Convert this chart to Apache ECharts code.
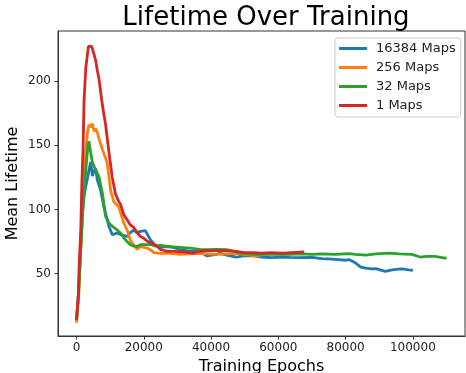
<!DOCTYPE html>
<html>
<head>
<meta charset="utf-8">
<script src="https://cdn.jsdelivr.net/npm/echarts@6/dist/echarts.min.js"></script>
<style>
  html, body { margin: 0; padding: 0; background: #fff; }
  #main { width: 466px; height: 373px; }
</style>
</head>
<body>
<div id="main"></div>
<script>
// 数据：每条曲线 [训练轮数, 平均寿命]
var seriesNames = ['16384 Maps', '256 Maps', '32 Maps', '1 Maps'];
var seriesColors = ['#1f77b4', '#ff7f0e', '#2ca02c', '#d62728'];
var xTicks = [0, 20000, 40000, 60000, 80000, 100000];
var yTicks = [50, 100, 150, 200];

var maps16384 = [
    [0,13],[600,35],[1270,70],[1770,97],[2250,110],[2750,118],[3400,126],[3720,131],[4220,137],[4720,126],
    [5200,130],[5700,132],[6200,123],[7180,115],[8150,102],[9630,87],[10630,80.4],[12110,81.7],[13500,80],
    [15060,79],[16000,82],[17010,84],[18000,82],[19000,83],[19490,82],[20460,83.5],[21000,82],[21940,76.5],
    [23420,72],[24890,71],[27850,71],[28730,70.5],[30800,68.7],[33750,67.4],[36700,67.4],[38680,64],
    [41640,65],[42600,66],[44600,64.5],[47540,63],[50000,64],[52360,64],[55000,63],[58000,62.5],[61000,63],
    [63300,62.7],[66000,62.5],[70000,62.7],[73000,61.7],[76000,61.4],[80100,60.5],[81000,61],[83000,58.3],
    [84500,55.2],[86000,54.4],[87900,53.7],[89000,54],[91800,51.8],[93800,53],[95800,53.6],[96700,53.7],
    [98700,53],[100000,52.7]
];
var maps256 = [
    [0,12],[600,30],[1270,70],[1770,108],[2250,125],[2750,146.6],[3250,160],[3720,166],[4220,164],[4720,167],
    [5200,161],[5700,163],[6200,160],[6670,155],[7680,147],[8650,140],[9150,136],[10130,115],[11100,106],
    [12580,102],[14060,89.5],[15060,84],[16030,76],[16540,75],[18010,69],[19000,71],[20970,70],[21900,68.7],
    [23000,66.5],[24890,65.8],[26900,66],[30800,65],[36700,65.8],[41640,65],[47540,65.8],[52360,64],[55000,64.5]
];
var maps32 = [
    [0,14],[600,34],[1270,70],[2000,105],[2750,130],[3400,150],[3720,153],[4220,144],[4720,137],[5200,133.5],
    [5700,135],[6670,125.7],[7680,112.8],[8650,94.6],[9630,89.5],[10630,87],[12110,84],[13580,80.4],
    [14060,77.8],[15060,75],[16030,72.6],[17010,71.5],[18000,71],[19000,72.6],[20970,72.6],[22440,72.6],
    [23420,71.5],[24890,72],[27850,71],[30800,70.5],[33750,70],[36700,69],[38680,68.7],[41640,69],[44600,68.7],
    [47540,67],[48520,66],[52360,65],[56000,65],[60000,65],[63300,65],[67000,65.5],[70000,65],[73000,65.5],
    [77000,65],[81000,65.6],[83000,65],[86000,64.5],[89000,65.5],[92800,66],[96000,65.5],[99700,65],
    [102200,63],[104000,63.5],[106600,63.5],[109500,62.2],[110000,62.5]
];
var maps1 = [
    [0,14],[590,35],[770,55.7],[1270,84],[1565,118],[1950,147],[2240,184],[2750,210],[3540,227],[4520,227],
    [5200,221],[5700,216],[6200,208],[6670,202],[7680,181.5],[8650,166],[9630,145],[10130,135],[10630,125],
    [11600,112],[12110,109],[12580,106],[13100,104],[14060,96],[15060,92],[16000,88],[17010,86],[18000,82],
    [19000,79],[19900,77.8],[20970,75.5],[21940,74],[23420,72.6],[24890,69],[26900,67.5],[28730,67.4],
    [31700,67],[34640,66],[36700,67.5],[38680,68],[41640,68],[44600,68],[47540,67.4],[50000,66.5],
    [52360,66.5],[55000,66],[58000,66.5],[61000,66],[64000,66.5],[67700,67]
];
var seriesData = [maps16384, maps256, maps32, maps1];

var font = 'DejaVu Sans';
var myChart = echarts.init(document.getElementById('main'), null, { renderer: 'canvas' });

var series = seriesNames.map(function (name, i) {
    return {
        name: name,
        type: 'line',
        data: seriesData[i],
        showSymbol: false,
        symbol: 'none',
        z: 2 + i,
        lineStyle: { width: 2.8, color: seriesColors[i] },
        itemStyle: { color: seriesColors[i] }
    };
});

// 刻度标签不要千分位
var plainNum = function (v) { return String(v); };

myChart.setOption({
    animation: false,
    backgroundColor: '#fff',
    title: {
        text: 'Lifetime Over Training',
        left: 261,
        top: 0,
        textAlign: 'center',
        textStyle: { fontFamily: font, fontSize: 26, fontWeight: 'normal', color: '#000' }
    },
    grid: {
        left: 58, right: 1, top: 31, bottom: 37,
        outerBoundsMode: 'none',
        containLabel: false,
        show: true, borderColor: '#333', borderWidth: 1
    },
    legend: {
        data: seriesNames,
        orient: 'vertical',
        left: 335,
        top: 38,
        itemWidth: 28,
        itemHeight: 3,
        itemGap: 6,
        icon: 'rect',
        padding: [4, 5, 5, 4],
        backgroundColor: 'rgba(255,255,255,0.85)',
        borderColor: '#ccc',
        borderWidth: 1,
        borderRadius: 3,
        textStyle: { fontFamily: font, fontSize: 13, color: '#222', padding: [0, 0, 0, 4] }
    },
    xAxis: {
        type: 'value',
        min: -5500,
        max: 115500,
        name: 'Training Epochs',
        nameLocation: 'middle',
        nameGap: 23,
        nameMoveOverlap: false,
        nameTextStyle: { fontFamily: font, fontSize: 16, color: '#000' },
        axisLine: { show: true, onZero: false, lineStyle: { color: '#333', width: 1 } },
        axisTick: { show: true, length: 3.5, customValues: xTicks, lineStyle: { color: '#333' } },
        axisLabel: { customValues: xTicks, formatter: plainNum, fontFamily: font, fontSize: 12, color: '#222', margin: 6 },
        splitLine: { show: false }
    },
    yAxis: {
        type: 'value',
        min: 1.5,
        max: 239,
        name: 'Mean Lifetime',
        nameLocation: 'middle',
        nameGap: 37,
        nameMoveOverlap: false,
        nameTextStyle: { fontFamily: font, fontSize: 16, color: '#000' },
        axisLine: { show: true, onZero: false, lineStyle: { color: '#333', width: 1 } },
        axisTick: { show: true, length: 3.5, customValues: yTicks, lineStyle: { color: '#333' } },
        axisLabel: { customValues: yTicks, formatter: plainNum, fontFamily: font, fontSize: 12, color: '#222', margin: 7 },
        splitLine: { show: false }
    },
    series: series
});
</script>
</body>
</html>
